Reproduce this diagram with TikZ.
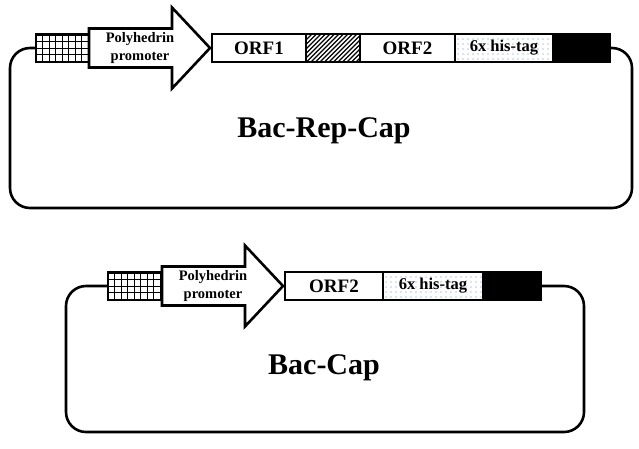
\documentclass[tikz,border=0pt]{standalone}
\usepackage{fontspec}
\setmainfont{Liberation Serif}
\usepackage{tikz}
\usetikzlibrary{positioning}
\definecolor{dotblue}{RGB}{105,140,205}
\tikzset{
  seg/.style={rectangle, draw=black, line width=1.2pt, fill=white,
              inner sep=0pt, outer sep=0pt, minimum height=28pt,
              font=\bfseries\fontsize{19}{21}\selectfont},
  seghatch/.style={seg, path picture={
      \foreach \i in {-40,-35.5,...,60}
        \draw[line width=1.2pt] ([xshift=\i pt]path picture bounding box.south west) -- ++(40pt,40pt);}},
  segdots/.style={seg, font=\bfseries\fontsize{16.5}{18}\selectfont, path picture={
      \foreach \i in {3,8,...,103}
        \foreach \j in {3,8,...,28}
          \fill[dotblue] ([shift={(\i pt,\j pt)}]path picture bounding box.south west) circle (0.6pt);}},
  segblack/.style={seg, fill=black},
  segmesh/.style={seg, path picture={
      \foreach \i in {0,6.5,...,60}
        \draw[line width=0.7pt] ([xshift=\i pt]path picture bounding box.south west) -- ++(0,40pt);
      \foreach \j in {1,7.5,...,30}
        \draw[line width=0.7pt] ([yshift=\j pt]path picture bounding box.south west) -- ++(60pt,0);}},
  promarrow/.style={draw=black, line width=2.6pt, fill=white, line join=miter},
  promlbl/.style={align=center, inner sep=0pt, font=\bfseries\fontsize{14.5}{18}\selectfont},
  backbone/.style={draw=black, line width=2.6pt, rounded corners=20pt},
  plasmidlbl/.style={font=\bfseries\fontsize{30}{34}\selectfont},
}
\begin{document}
\begin{tikzpicture}[x=1pt, y=-1pt]
  \useasboundingbox (0,0) rectangle (639,448);
  % Bac-Rep-Cap construct
  \node[segmesh, minimum width=53pt] (mesh1) at (62.5,48) {};
  \draw[promarrow] (mesh1.east) ++(0,-19.5) -- ++(83,0) -- ++(0,-21) -- ++(38,40.5)
        -- ++(-38,40.5) -- ++(0,-21) -- ++(-83,0) -- cycle;
  \node[promlbl] (prom1) at (140,48) {Polyhedrin\\promoter};
  \node[seg, minimum width=94pt, anchor=west] (orf1) at (212,48) {ORF1};
  \node[seghatch, minimum width=54pt, right=0pt of orf1] (hatch1) {};
  \node[seg, minimum width=95pt, right=0pt of hatch1] (orf2a) {ORF2};
  \node[segdots, minimum width=98pt, right=0pt of orf2a] (his1) {6x his-tag};
  \node[segblack, minimum width=57pt, right=0pt of his1] (blk1) {};
  \coordinate (bb1sw) at (10,208);
  \coordinate (bb1se) at (632,208);
  \draw[backbone] (mesh1.west) -| (bb1sw) -- (bb1se) |- (blk1.east);
  \node[plasmidlbl] (name1) at (324,131) {Bac-Rep-Cap};
  % Bac-Cap construct
  \node[segmesh, minimum width=54pt] (mesh2) at (135,286) {};
  \draw[promarrow] (mesh2.east) ++(0,-19.5) -- ++(83,0) -- ++(0,-21) -- ++(38,40.5)
        -- ++(-38,40.5) -- ++(0,-21) -- ++(-83,0) -- cycle;
  \node[promlbl] (prom2) at (213,286) {Polyhedrin\\promoter};
  \node[seg, minimum width=98pt, anchor=west] (orf2b) at (285,286) {ORF2};
  \node[segdots, minimum width=100pt, right=0pt of orf2b] (his2) {6x his-tag};
  \node[segblack, minimum width=58pt, right=0pt of his2] (blk2) {};
  \coordinate (bb2sw) at (66,432);
  \coordinate (bb2se) at (584,432);
  \draw[backbone] (mesh2.west) -| (bb2sw) -- (bb2se) |- (blk2.east);
  \node[plasmidlbl] (name2) at (324,368) {Bac-Cap};
\end{tikzpicture}
\end{document}
